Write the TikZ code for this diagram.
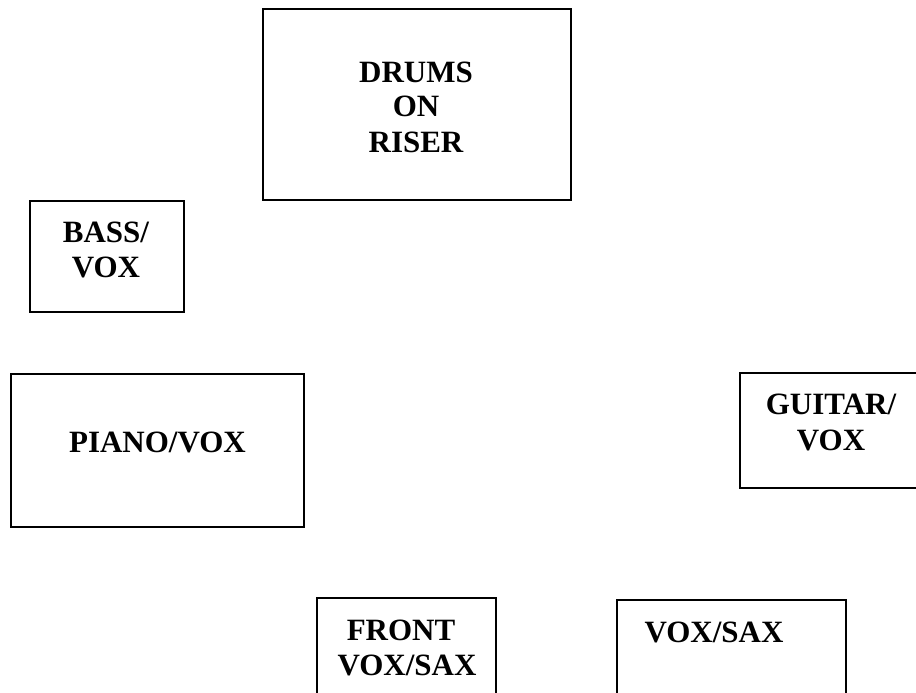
\documentclass[tikz,border=0pt]{standalone}
\usepackage{fontspec}
\setmainfont{Liberation Serif}
\begin{document}
\begin{tikzpicture}[x=1pt,y=-1pt,
  box/.style={draw=black,line width=1.6pt,rectangle,inner sep=0pt},
  lbl/.style={inner sep=0pt,anchor=base,font=\fontsize{31}{35}\selectfont\bfseries}]
\useasboundingbox (0,0) rectangle (916,693);
\clip (0,0) rectangle (916,693);
% boxes
\node[box,minimum width=308pt,minimum height=191pt] (drums) at (417,104.5) {};
\node[box,minimum width=154pt,minimum height=111pt] (bass) at (107,256.5) {};
\node[box,minimum width=293pt,minimum height=153pt] (piano) at (157.5,450.5) {};
\node[box,minimum width=200pt,minimum height=115pt] (guitar) at (840,430.5) {};
\node[box,minimum width=179pt,minimum height=122pt] (front) at (406.5,659) {};
\node[box,minimum width=229pt,minimum height=120pt] (voxsax) at (731.5,660) {};
% labels
\node[lbl] (drumsA) at (416,82) {DRUMS};
\node[lbl] (drumsB) at (416,117) {ON};
\node[lbl] (drumsC) at (416,152) {RISER};
\node[lbl] (bassA) at (106,242) {BASS/};
\node[lbl] (bassB) at (106,277) {VOX};
\node[lbl] (pianoA) at (157.5,452) {PIANO/VOX};
\node[lbl] (guitarA) at (831,414) {GUITAR/};
\node[lbl] (guitarB) at (831,450) {VOX};
\node[lbl] (frontA) at (401,640) {FRONT};
\node[lbl] (frontB) at (407,675) {VOX/SAX};
\node[lbl] (voxsaxA) at (714,642) {VOX/SAX};
\end{tikzpicture}
\end{document}
